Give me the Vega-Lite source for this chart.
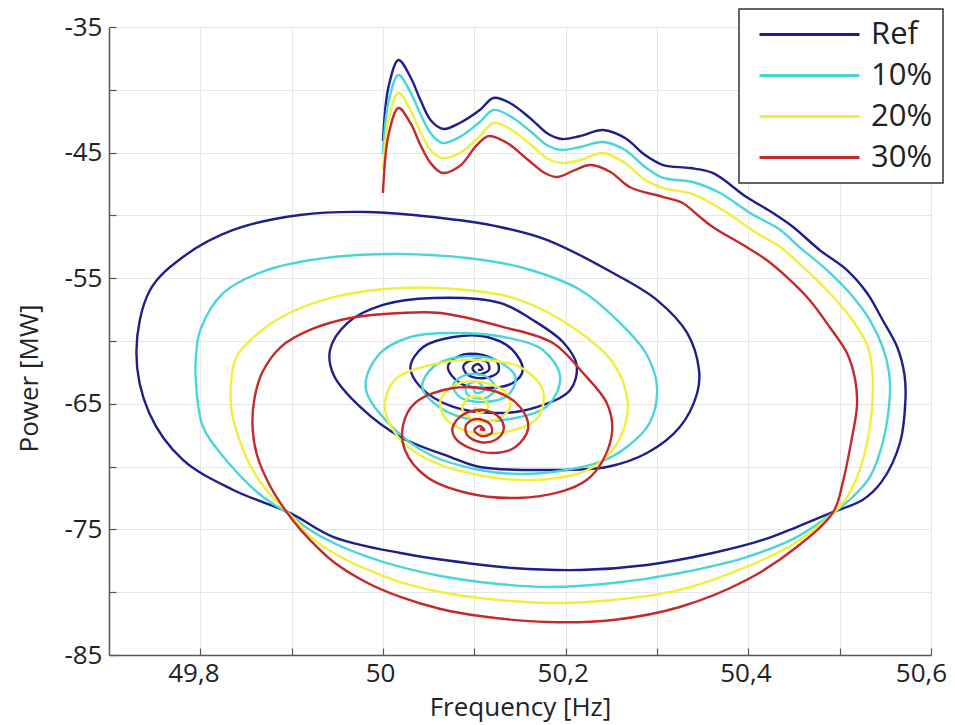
{
"$schema":"https://vega.github.io/schema/vega-lite/v6.json",
"autosize":{"type":"none"},
"padding":{"left":109,"top":27,"right":24,"bottom":70},
"width":822,"height":628,
"background":"white",
"config":{"view":{"stroke":null},"font":"Open Sans"},
"data":{"values":[
{"s":"Ref","i":1,"x":50.000,"y":-44.08},{"s":"Ref","i":2,"x":50.006,"y":-39.78},{"s":"Ref","i":3,"x":50.017,"y":-37.63},{"s":"Ref","i":4,"x":50.030,"y":-38.98},{"s":"Ref","i":5,"x":50.041,"y":-40.81},{"s":"Ref","i":6,"x":50.052,"y":-42.40},{"s":"Ref","i":7,"x":50.066,"y":-43.12},{"s":"Ref","i":8,"x":50.084,"y":-42.64},{"s":"Ref","i":9,"x":50.106,"y":-41.61},{"s":"Ref","i":10,"x":50.121,"y":-40.65},
{"s":"Ref","i":11,"x":50.139,"y":-41.05},{"s":"Ref","i":12,"x":50.161,"y":-42.25},{"s":"Ref","i":13,"x":50.181,"y":-43.52},{"s":"Ref","i":14,"x":50.196,"y":-43.92},{"s":"Ref","i":15,"x":50.216,"y":-43.68},{"s":"Ref","i":16,"x":50.241,"y":-43.20},{"s":"Ref","i":17,"x":50.265,"y":-43.84},{"s":"Ref","i":18,"x":50.287,"y":-45.19},{"s":"Ref","i":19,"x":50.307,"y":-45.99},{"s":"Ref","i":20,"x":50.336,"y":-46.23},
{"s":"Ref","i":21,"x":50.361,"y":-46.62},{"s":"Ref","i":22,"x":50.398,"y":-48.54},{"s":"Ref","i":23,"x":50.427,"y":-49.81},{"s":"Ref","i":24,"x":50.449,"y":-50.92},{"s":"Ref","i":25,"x":50.478,"y":-52.75},{"s":"Ref","i":26,"x":50.508,"y":-54.35},{"s":"Ref","i":27,"x":50.530,"y":-56.18},{"s":"Ref","i":28,"x":50.547,"y":-58.33},{"s":"Ref","i":29,"x":50.563,"y":-60.48},{"s":"Ref","i":30,"x":50.571,"y":-62.71},
{"s":"Ref","i":31,"x":50.572,"y":-64.70},{"s":"Ref","i":32,"x":50.566,"y":-68.12},{"s":"Ref","i":33,"x":50.546,"y":-71.20},{"s":"Ref","i":34,"x":50.525,"y":-72.66},{"s":"Ref","i":35,"x":50.493,"y":-73.61},{"s":"Ref","i":36,"x":50.453,"y":-74.81},{"s":"Ref","i":37,"x":50.416,"y":-75.84},{"s":"Ref","i":38,"x":50.361,"y":-76.88},{"s":"Ref","i":39,"x":50.289,"y":-77.83},{"s":"Ref","i":40,"x":50.216,"y":-78.23},
{"s":"Ref","i":41,"x":50.142,"y":-78.07},{"s":"Ref","i":42,"x":50.092,"y":-77.68},{"s":"Ref","i":43,"x":50.019,"y":-76.88},{"s":"Ref","i":44,"x":49.946,"y":-75.61},{"s":"Ref","i":45,"x":49.898,"y":-73.69},{"s":"Ref","i":46,"x":49.836,"y":-71.86},{"s":"Ref","i":47,"x":49.781,"y":-69.47},{"s":"Ref","i":48,"x":49.744,"y":-65.73},{"s":"Ref","i":49,"x":49.730,"y":-60.88},{"s":"Ref","i":50,"x":49.745,"y":-55.94},
{"s":"Ref","i":51,"x":49.781,"y":-53.31},{"s":"Ref","i":52,"x":49.836,"y":-51.16},{"s":"Ref","i":53,"x":49.909,"y":-49.97},{"s":"Ref","i":54,"x":49.983,"y":-49.73},{"s":"Ref","i":55,"x":50.055,"y":-50.13},{"s":"Ref","i":56,"x":50.128,"y":-50.92},{"s":"Ref","i":57,"x":50.180,"y":-51.96},{"s":"Ref","i":58,"x":50.252,"y":-54.59},{"s":"Ref","i":59,"x":50.300,"y":-56.74},{"s":"Ref","i":60,"x":50.333,"y":-59.36},
{"s":"Ref","i":61,"x":50.346,"y":-62.31},{"s":"Ref","i":62,"x":50.344,"y":-64.14},{"s":"Ref","i":63,"x":50.325,"y":-66.85},{"s":"Ref","i":64,"x":50.289,"y":-68.92},{"s":"Ref","i":65,"x":50.245,"y":-70.03},{"s":"Ref","i":66,"x":50.180,"y":-70.27},{"s":"Ref","i":67,"x":50.106,"y":-70.03},{"s":"Ref","i":68,"x":50.074,"y":-69.24},{"s":"Ref","i":69,"x":50.019,"y":-67.64},{"s":"Ref","i":70,"x":49.975,"y":-65.25},
{"s":"Ref","i":71,"x":49.946,"y":-62.71},{"s":"Ref","i":72,"x":49.942,"y":-60.72},{"s":"Ref","i":73,"x":49.961,"y":-58.57},{"s":"Ref","i":74,"x":50.000,"y":-57.13},{"s":"Ref","i":75,"x":50.055,"y":-56.58},{"s":"Ref","i":76,"x":50.128,"y":-56.97},{"s":"Ref","i":77,"x":50.164,"y":-58.33},{"s":"Ref","i":78,"x":50.197,"y":-60.08},{"s":"Ref","i":79,"x":50.212,"y":-61.91},{"s":"Ref","i":80,"x":50.205,"y":-63.90},
{"s":"Ref","i":81,"x":50.169,"y":-65.25},{"s":"Ref","i":82,"x":50.132,"y":-65.73},{"s":"Ref","i":83,"x":50.077,"y":-65.25},{"s":"Ref","i":84,"x":50.041,"y":-63.66},{"s":"Ref","i":85,"x":50.030,"y":-62.07},{"s":"Ref","i":86,"x":50.044,"y":-60.48},{"s":"Ref","i":87,"x":50.077,"y":-59.68},{"s":"Ref","i":88,"x":50.114,"y":-59.68},{"s":"Ref","i":89,"x":50.142,"y":-60.72},{"s":"Ref","i":90,"x":50.153,"y":-62.31},
{"s":"Ref","i":91,"x":50.142,"y":-63.34},{"s":"Ref","i":92,"x":50.114,"y":-63.74},{"s":"Ref","i":93,"x":50.084,"y":-63.34},{"s":"Ref","i":94,"x":50.071,"y":-62.07},{"s":"Ref","i":95,"x":50.081,"y":-61.27},{"s":"Ref","i":96,"x":50.103,"y":-61.04},{"s":"Ref","i":97,"x":50.125,"y":-61.67},{"s":"Ref","i":98,"x":50.126,"y":-62.47},{"s":"Ref","i":99,"x":50.112,"y":-62.95},{"s":"Ref","i":100,"x":50.093,"y":-62.71},
{"s":"Ref","i":101,"x":50.088,"y":-61.99},{"s":"Ref","i":102,"x":50.098,"y":-61.51},{"s":"Ref","i":103,"x":50.114,"y":-61.67},{"s":"Ref","i":104,"x":50.116,"y":-62.31},{"s":"Ref","i":105,"x":50.104,"y":-62.63},{"s":"Ref","i":106,"x":50.098,"y":-62.15},{"s":"Ref","i":107,"x":50.104,"y":-61.83},{"s":"Ref","i":108,"x":50.109,"y":-62.23},{"s":"Ref","i":109,"x":50.104,"y":-62.31},

{"s":"10%","i":1,"x":50.000,"y":-45.11},{"s":"10%","i":2,"x":50.006,"y":-40.97},{"s":"10%","i":3,"x":50.017,"y":-38.82},{"s":"10%","i":4,"x":50.030,"y":-40.18},{"s":"10%","i":5,"x":50.041,"y":-41.93},{"s":"10%","i":6,"x":50.052,"y":-43.44},{"s":"10%","i":7,"x":50.065,"y":-44.24},{"s":"10%","i":8,"x":50.084,"y":-43.76},{"s":"10%","i":9,"x":50.106,"y":-42.56},{"s":"10%","i":10,"x":50.121,"y":-41.61},
{"s":"10%","i":11,"x":50.139,"y":-42.09},{"s":"10%","i":12,"x":50.161,"y":-43.28},{"s":"10%","i":13,"x":50.181,"y":-44.47},{"s":"10%","i":14,"x":50.196,"y":-44.79},{"s":"10%","i":15,"x":50.216,"y":-44.55},{"s":"10%","i":16,"x":50.241,"y":-44.16},{"s":"10%","i":17,"x":50.265,"y":-44.79},{"s":"10%","i":18,"x":50.287,"y":-46.15},{"s":"10%","i":19,"x":50.307,"y":-47.02},{"s":"10%","i":20,"x":50.339,"y":-47.34},
{"s":"10%","i":21,"x":50.369,"y":-48.22},{"s":"10%","i":22,"x":50.402,"y":-49.81},{"s":"10%","i":23,"x":50.435,"y":-51.16},{"s":"10%","i":24,"x":50.456,"y":-52.52},{"s":"10%","i":25,"x":50.486,"y":-54.35},{"s":"10%","i":26,"x":50.511,"y":-56.18},{"s":"10%","i":27,"x":50.533,"y":-58.33},{"s":"10%","i":28,"x":50.547,"y":-60.48},{"s":"10%","i":29,"x":50.554,"y":-62.47},{"s":"10%","i":30,"x":50.555,"y":-64.30},
{"s":"10%","i":31,"x":50.547,"y":-68.12},{"s":"10%","i":32,"x":50.533,"y":-70.83},{"s":"10%","i":33,"x":50.513,"y":-72.50},{"s":"10%","i":34,"x":50.493,"y":-73.69},{"s":"10%","i":35,"x":50.453,"y":-75.61},{"s":"10%","i":36,"x":50.398,"y":-77.20},{"s":"10%","i":37,"x":50.325,"y":-78.47},{"s":"10%","i":38,"x":50.252,"y":-79.27},{"s":"10%","i":39,"x":50.180,"y":-79.59},{"s":"10%","i":40,"x":50.106,"y":-79.19},
{"s":"10%","i":41,"x":50.063,"y":-78.71},{"s":"10%","i":42,"x":50.019,"y":-77.99},{"s":"10%","i":43,"x":49.981,"y":-77.12},{"s":"10%","i":44,"x":49.946,"y":-76.08},{"s":"10%","i":45,"x":49.920,"y":-75.05},{"s":"10%","i":46,"x":49.900,"y":-73.93},{"s":"10%","i":47,"x":49.866,"y":-72.26},{"s":"10%","i":48,"x":49.830,"y":-69.63},{"s":"10%","i":49,"x":49.803,"y":-66.85},{"s":"10%","i":50,"x":49.795,"y":-63.10},
{"s":"10%","i":51,"x":49.795,"y":-61.51},{"s":"10%","i":52,"x":49.800,"y":-59.12},{"s":"10%","i":53,"x":49.825,"y":-56.18},{"s":"10%","i":54,"x":49.873,"y":-54.35},{"s":"10%","i":55,"x":49.946,"y":-53.31},{"s":"10%","i":56,"x":50.019,"y":-53.07},{"s":"10%","i":57,"x":50.092,"y":-53.39},{"s":"10%","i":58,"x":50.150,"y":-54.11},{"s":"10%","i":59,"x":50.216,"y":-55.94},{"s":"10%","i":60,"x":50.267,"y":-59.12},
{"s":"10%","i":61,"x":50.289,"y":-61.11},{"s":"10%","i":62,"x":50.300,"y":-63.66},{"s":"10%","i":63,"x":50.292,"y":-66.53},{"s":"10%","i":64,"x":50.267,"y":-68.44},{"s":"10%","i":65,"x":50.238,"y":-69.63},{"s":"10%","i":66,"x":50.194,"y":-70.35},{"s":"10%","i":67,"x":50.150,"y":-70.59},{"s":"10%","i":68,"x":50.106,"y":-70.27},{"s":"10%","i":69,"x":50.052,"y":-69.08},{"s":"10%","i":70,"x":50.008,"y":-66.69},
{"s":"10%","i":71,"x":49.981,"y":-63.74},{"s":"10%","i":72,"x":49.995,"y":-61.11},{"s":"10%","i":73,"x":50.030,"y":-59.68},{"s":"10%","i":74,"x":50.077,"y":-59.36},{"s":"10%","i":75,"x":50.132,"y":-59.68},{"s":"10%","i":76,"x":50.175,"y":-60.72},{"s":"10%","i":77,"x":50.194,"y":-62.87},{"s":"10%","i":78,"x":50.181,"y":-65.10},{"s":"10%","i":79,"x":50.145,"y":-66.13},{"s":"10%","i":80,"x":50.101,"y":-66.29},
{"s":"10%","i":81,"x":50.063,"y":-65.33},{"s":"10%","i":82,"x":50.043,"y":-63.66},{"s":"10%","i":83,"x":50.055,"y":-62.07},{"s":"10%","i":84,"x":50.084,"y":-61.27},{"s":"10%","i":85,"x":50.123,"y":-61.51},{"s":"10%","i":86,"x":50.145,"y":-62.87},{"s":"10%","i":87,"x":50.137,"y":-64.30},{"s":"10%","i":88,"x":50.110,"y":-64.86},{"s":"10%","i":89,"x":50.084,"y":-64.46},{"s":"10%","i":90,"x":50.077,"y":-63.50},
{"s":"10%","i":91,"x":50.090,"y":-62.71},{"s":"10%","i":92,"x":50.112,"y":-62.79},{"s":"10%","i":93,"x":50.123,"y":-63.74},{"s":"10%","i":94,"x":50.112,"y":-64.54},{"s":"10%","i":95,"x":50.093,"y":-64.30},{"s":"10%","i":96,"x":50.091,"y":-63.58},{"s":"10%","i":97,"x":50.103,"y":-63.26},{"s":"10%","i":98,"x":50.111,"y":-63.90},{"s":"10%","i":99,"x":50.102,"y":-64.14},{"s":"10%","i":100,"x":50.099,"y":-63.82},

{"s":"20%","i":1,"x":50.000,"y":-46.39},{"s":"20%","i":2,"x":50.006,"y":-42.40},{"s":"20%","i":3,"x":50.017,"y":-40.25},{"s":"20%","i":4,"x":50.030,"y":-41.61},{"s":"20%","i":5,"x":50.041,"y":-43.36},{"s":"20%","i":6,"x":50.052,"y":-44.79},{"s":"20%","i":7,"x":50.065,"y":-45.43},{"s":"20%","i":8,"x":50.084,"y":-45.03},{"s":"20%","i":9,"x":50.106,"y":-43.68},{"s":"20%","i":10,"x":50.121,"y":-42.64},
{"s":"20%","i":11,"x":50.139,"y":-43.12},{"s":"20%","i":12,"x":50.161,"y":-44.32},{"s":"20%","i":13,"x":50.181,"y":-45.51},{"s":"20%","i":14,"x":50.196,"y":-45.83},{"s":"20%","i":15,"x":50.216,"y":-45.59},{"s":"20%","i":16,"x":50.241,"y":-45.03},{"s":"20%","i":17,"x":50.265,"y":-45.83},{"s":"20%","i":18,"x":50.287,"y":-47.18},{"s":"20%","i":19,"x":50.307,"y":-47.82},{"s":"20%","i":20,"x":50.339,"y":-48.30},
{"s":"20%","i":21,"x":50.372,"y":-49.57},{"s":"20%","i":22,"x":50.409,"y":-51.40},{"s":"20%","i":23,"x":50.435,"y":-52.52},{"s":"20%","i":24,"x":50.460,"y":-54.11},{"s":"20%","i":25,"x":50.489,"y":-56.18},{"s":"20%","i":26,"x":50.514,"y":-58.33},{"s":"20%","i":27,"x":50.531,"y":-60.48},{"s":"20%","i":28,"x":50.536,"y":-62.71},{"s":"20%","i":29,"x":50.536,"y":-64.70},{"s":"20%","i":30,"x":50.530,"y":-68.12},
{"s":"20%","i":31,"x":50.519,"y":-70.83},{"s":"20%","i":32,"x":50.506,"y":-72.66},{"s":"20%","i":33,"x":50.493,"y":-73.69},{"s":"20%","i":34,"x":50.453,"y":-76.00},{"s":"20%","i":35,"x":50.398,"y":-77.99},{"s":"20%","i":36,"x":50.325,"y":-79.82},{"s":"20%","i":37,"x":50.252,"y":-80.62},{"s":"20%","i":38,"x":50.180,"y":-80.86},{"s":"20%","i":39,"x":50.106,"y":-80.46},{"s":"20%","i":40,"x":50.063,"y":-79.98},
{"s":"20%","i":41,"x":50.019,"y":-79.19},{"s":"20%","i":42,"x":49.981,"y":-78.15},{"s":"20%","i":43,"x":49.946,"y":-76.88},{"s":"20%","i":44,"x":49.920,"y":-75.53},{"s":"20%","i":45,"x":49.901,"y":-74.01},{"s":"20%","i":46,"x":49.879,"y":-72.42},{"s":"20%","i":47,"x":49.860,"y":-70.59},{"s":"20%","i":48,"x":49.844,"y":-68.12},{"s":"20%","i":49,"x":49.834,"y":-65.49},{"s":"20%","i":50,"x":49.834,"y":-63.10},
{"s":"20%","i":51,"x":49.839,"y":-61.35},{"s":"20%","i":52,"x":49.855,"y":-59.92},{"s":"20%","i":53,"x":49.891,"y":-58.01},{"s":"20%","i":54,"x":49.946,"y":-56.50},{"s":"20%","i":55,"x":50.019,"y":-55.78},{"s":"20%","i":56,"x":50.092,"y":-55.94},{"s":"20%","i":57,"x":50.150,"y":-56.74},{"s":"20%","i":58,"x":50.212,"y":-59.12},{"s":"20%","i":59,"x":50.252,"y":-61.75},{"s":"20%","i":60,"x":50.268,"y":-64.94},
{"s":"20%","i":61,"x":50.260,"y":-67.64},{"s":"20%","i":62,"x":50.241,"y":-69.47},{"s":"20%","i":63,"x":50.216,"y":-70.51},{"s":"20%","i":64,"x":50.164,"y":-71.07},{"s":"20%","i":65,"x":50.110,"y":-70.75},{"s":"20%","i":66,"x":50.055,"y":-69.63},{"s":"20%","i":67,"x":50.019,"y":-67.88},{"s":"20%","i":68,"x":50.002,"y":-65.25},{"s":"20%","i":69,"x":50.013,"y":-63.10},{"s":"20%","i":70,"x":50.052,"y":-61.91},
{"s":"20%","i":71,"x":50.106,"y":-61.51},{"s":"20%","i":72,"x":50.150,"y":-62.07},{"s":"20%","i":73,"x":50.175,"y":-63.90},{"s":"20%","i":74,"x":50.169,"y":-66.13},{"s":"20%","i":75,"x":50.134,"y":-67.25},{"s":"20%","i":76,"x":50.095,"y":-67.25},{"s":"20%","i":77,"x":50.068,"y":-66.13},{"s":"20%","i":78,"x":50.063,"y":-64.70},{"s":"20%","i":79,"x":50.079,"y":-63.50},{"s":"20%","i":80,"x":50.106,"y":-63.26},
{"s":"20%","i":81,"x":50.134,"y":-64.06},{"s":"20%","i":82,"x":50.139,"y":-65.33},{"s":"20%","i":83,"x":50.123,"y":-66.29},{"s":"20%","i":84,"x":50.101,"y":-66.29},{"s":"20%","i":85,"x":50.087,"y":-65.49},{"s":"20%","i":86,"x":50.093,"y":-64.54},{"s":"20%","i":87,"x":50.109,"y":-64.54},{"s":"20%","i":88,"x":50.115,"y":-65.33},{"s":"20%","i":89,"x":50.104,"y":-65.73},{"s":"20%","i":90,"x":50.100,"y":-65.25},

{"s":"30%","i":1,"x":50.000,"y":-48.22},{"s":"30%","i":2,"x":50.006,"y":-43.60},{"s":"30%","i":3,"x":50.017,"y":-41.45},{"s":"30%","i":4,"x":50.030,"y":-42.64},{"s":"30%","i":5,"x":50.041,"y":-44.39},{"s":"30%","i":6,"x":50.052,"y":-45.83},{"s":"30%","i":7,"x":50.065,"y":-46.62},{"s":"30%","i":8,"x":50.084,"y":-46.07},{"s":"30%","i":9,"x":50.103,"y":-44.39},{"s":"30%","i":10,"x":50.116,"y":-43.68},
{"s":"30%","i":11,"x":50.136,"y":-44.24},{"s":"30%","i":12,"x":50.159,"y":-45.59},{"s":"30%","i":13,"x":50.177,"y":-46.62},{"s":"30%","i":14,"x":50.191,"y":-46.94},{"s":"30%","i":15,"x":50.210,"y":-46.39},{"s":"30%","i":16,"x":50.227,"y":-45.99},{"s":"30%","i":17,"x":50.249,"y":-46.54},{"s":"30%","i":18,"x":50.270,"y":-47.74},{"s":"30%","i":19,"x":50.307,"y":-48.54},{"s":"30%","i":20,"x":50.328,"y":-49.01},
{"s":"30%","i":21,"x":50.347,"y":-50.13},{"s":"30%","i":22,"x":50.361,"y":-50.92},{"s":"30%","i":23,"x":50.398,"y":-52.52},{"s":"30%","i":24,"x":50.420,"y":-53.55},{"s":"30%","i":25,"x":50.442,"y":-54.90},{"s":"30%","i":26,"x":50.467,"y":-56.74},{"s":"30%","i":27,"x":50.489,"y":-58.89},{"s":"30%","i":28,"x":50.508,"y":-60.96},{"s":"30%","i":29,"x":50.517,"y":-63.10},{"s":"30%","i":30,"x":50.519,"y":-65.10},
{"s":"30%","i":31,"x":50.513,"y":-67.88},{"s":"30%","i":32,"x":50.504,"y":-71.07},{"s":"30%","i":33,"x":50.493,"y":-73.61},{"s":"30%","i":34,"x":50.453,"y":-76.40},{"s":"30%","i":35,"x":50.398,"y":-79.03},{"s":"30%","i":36,"x":50.325,"y":-81.18},{"s":"30%","i":37,"x":50.252,"y":-82.21},{"s":"30%","i":38,"x":50.180,"y":-82.37},{"s":"30%","i":39,"x":50.106,"y":-81.90},{"s":"30%","i":40,"x":50.063,"y":-81.34},
{"s":"30%","i":41,"x":50.019,"y":-80.38},{"s":"30%","i":42,"x":49.981,"y":-79.19},{"s":"30%","i":43,"x":49.946,"y":-77.60},{"s":"30%","i":44,"x":49.920,"y":-75.84},{"s":"30%","i":45,"x":49.901,"y":-74.25},{"s":"30%","i":46,"x":49.877,"y":-71.62},{"s":"30%","i":47,"x":49.862,"y":-69.08},{"s":"30%","i":48,"x":49.857,"y":-66.53},{"s":"30%","i":49,"x":49.860,"y":-64.30},{"s":"30%","i":50,"x":49.868,"y":-62.47},
{"s":"30%","i":51,"x":49.888,"y":-60.48},{"s":"30%","i":52,"x":49.920,"y":-59.12},{"s":"30%","i":53,"x":49.964,"y":-58.17},{"s":"30%","i":54,"x":50.019,"y":-57.77},{"s":"30%","i":55,"x":50.063,"y":-57.77},{"s":"30%","i":56,"x":50.132,"y":-58.89},{"s":"30%","i":57,"x":50.186,"y":-60.16},{"s":"30%","i":58,"x":50.219,"y":-62.55},{"s":"30%","i":59,"x":50.245,"y":-64.94},{"s":"30%","i":60,"x":50.251,"y":-67.09},
{"s":"30%","i":61,"x":50.241,"y":-69.47},{"s":"30%","i":62,"x":50.223,"y":-71.07},{"s":"30%","i":63,"x":50.194,"y":-72.02},{"s":"30%","i":64,"x":50.147,"y":-72.50},{"s":"30%","i":65,"x":50.092,"y":-72.10},{"s":"30%","i":66,"x":50.048,"y":-70.83},{"s":"30%","i":67,"x":50.024,"y":-68.68},{"s":"30%","i":68,"x":50.022,"y":-66.69},{"s":"30%","i":69,"x":50.035,"y":-64.94},{"s":"30%","i":70,"x":50.077,"y":-63.74},
{"s":"30%","i":71,"x":50.125,"y":-64.06},{"s":"30%","i":72,"x":50.150,"y":-65.25},{"s":"30%","i":73,"x":50.159,"y":-66.93},{"s":"30%","i":74,"x":50.145,"y":-68.44},{"s":"30%","i":75,"x":50.121,"y":-68.92},{"s":"30%","i":76,"x":50.095,"y":-68.52},{"s":"30%","i":77,"x":50.079,"y":-67.72},{"s":"30%","i":78,"x":50.076,"y":-66.93},{"s":"30%","i":79,"x":50.087,"y":-65.89},{"s":"30%","i":80,"x":50.110,"y":-65.49},
{"s":"30%","i":81,"x":50.128,"y":-66.13},{"s":"30%","i":82,"x":50.132,"y":-67.09},{"s":"30%","i":83,"x":50.123,"y":-67.88},{"s":"30%","i":84,"x":50.106,"y":-68.04},{"s":"30%","i":85,"x":50.092,"y":-67.48},{"s":"30%","i":86,"x":50.091,"y":-66.69},{"s":"30%","i":87,"x":50.102,"y":-66.21},{"s":"30%","i":88,"x":50.117,"y":-66.61},{"s":"30%","i":89,"x":50.119,"y":-67.32},{"s":"30%","i":90,"x":50.107,"y":-67.56},
{"s":"30%","i":91,"x":50.100,"y":-67.09},{"s":"30%","i":92,"x":50.106,"y":-66.77},{"s":"30%","i":93,"x":50.111,"y":-67.09},{"s":"30%","i":94,"x":50.106,"y":-67.01}
]},
"mark":{"type":"line","interpolate":"catmull-rom","strokeWidth":2.4},
"encoding":{
"x":{"field":"x","type":"quantitative","title":"Frequency [Hz]",
"scale":{"domain":[49.7,50.6],"nice":false,"zero":false},
"axis":{"values":[49.8,49.9,50,50.1,50.2,50.3,50.4,50.5,50.6],"format":"~g",
"labelExpr":"round(datum.value*10)%2==1 ? '' : replace(datum.label,'.',',')",
"labelOffset":{"condition":[{"test":"datum.value < 49.85","value":-7},{"test":"datum.value > 50.55","value":-10}],"value":-3},
"grid":true,"gridColor":"#e6e6e6","domainColor":"#555555","domainWidth":1.5,"tickColor":"#555555","tickSize":-7,"tickWidth":1.2,
"labelFontSize":26,"labelColor":"#222222","labelFont":"Open Sans","labelPadding":12,"labelFlush":false,"labelOverlap":false,
"titleFontSize":26,"titleFontWeight":"normal","titleColor":"#222222","titleFont":"Open Sans","titleY":52,"titleBaseline":"middle"}},
"y":{"field":"y","type":"quantitative","title":"Power [MW]",
"scale":{"domain":[-85,-35],"nice":false,"zero":false},
"axis":{"values":[-85,-80,-75,-70,-65,-60,-55,-50,-45,-40,-35],
"labelExpr":"datum.value%10==0 ? '' : ''+datum.value",
"grid":true,"gridColor":"#e6e6e6","domainColor":"#555555","domainWidth":1.5,"tickColor":"#555555","tickSize":-7,"tickWidth":1.2,
"labelFontSize":26,"labelColor":"#222222","labelFont":"Open Sans","labelPadding":14,"labelFlush":false,"labelOverlap":false,
"titleFontSize":26,"titleFontWeight":"normal","titleColor":"#222222","titleFont":"Open Sans","titleX":-80,"titleY":351,"titleBaseline":"middle","titleAlign":"center"}},
"color":{"field":"s","type":"nominal","sort":["Ref","10%","20%","30%"],
"scale":{"domain":["Ref","10%","20%","30%"],"range":["#1f1f8c","#4ad6d8","#f2ee3c","#c42a2c"]},
"legend":{"orient":"none","legendX":630,"legendY":-18,"title":null,"symbolType":"M-5,0H5","symbolSize":400,"symbolStrokeWidth":3,
"labelFontSize":31,"labelFont":"Open Sans","labelColor":"#222222","strokeColor":"#333333","fillColor":"white","padding":10,"rowPadding":9,
"symbolOffset":45,"labelOffset":46,"cornerRadius":0,
"encode":{"legend":{"update":{"strokeWidth":{"value":1.5}}}}}},
"order":{"field":"i","type":"quantitative"}
}
}
